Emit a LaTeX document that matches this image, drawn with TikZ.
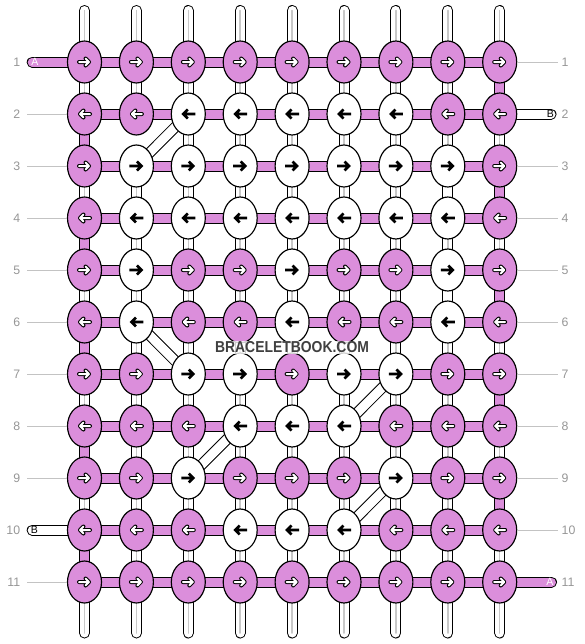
\documentclass[tikz,border=0pt]{standalone}
\usepackage{fontspec}
\setmainfont{Liberation Sans}
\usetikzlibrary{shapes.geometric}
\definecolor{knotpink}{RGB}{219,142,219}
\definecolor{labelgray}{RGB}{150,150,150}
\definecolor{guidegray}{RGB}{195,195,195}
\definecolor{stripegray}{RGB}{200,200,200}
\definecolor{markgray}{RGB}{64,64,64}
\pgfdeclarelayer{back}
\pgfsetlayers{back,main}

\begin{document}
\begin{tikzpicture}[
    x=0.3mm, y=-0.3mm,
    knot/.style={
        ellipse,
        draw=black,
        line width=0.35mm,
        inner sep=0pt,
        minimum width=10.2mm,
        minimum height=12.6mm
    },
    knotP/.style={knot, fill=knotpink},
    knotW/.style={knot, fill=white},
    strw/.style={draw=stripegray, line width=0.45mm, line cap=round,
        preaction={draw=black, line width=3.3mm, line cap=round},
        preaction={draw=white, line width=2.7mm, line cap=round}},
    strb/.style={draw=white, line width=2.7mm, line cap=round,
        preaction={draw=black, line width=3.3mm, line cap=round}},
    strp/.style={draw=knotpink, line width=2.7mm, line cap=round,
        preaction={draw=black, line width=3.3mm, line cap=round}},
    rowlab/.style={text=labelgray, font=\fontsize{10.5}{12}\selectfont, inner ysep=0pt},
    guide/.style={draw=guidegray, line width=0.3mm},
    endlab/.style={font=\fontsize{9}{9}\selectfont, inner sep=0pt},
    pics/darkarr/.style={code={
        \draw[line width=0.8mm, line join=miter] (-7,0) -- (5,0) (0.5,-4.5) -- (5,0) -- (0.5,4.5);
    }},
    pics/lightarr/.style={code={
        \draw[line width=1.2mm, line cap=round, line join=round] (-5.5,0) -- (4.5,0) (1,-3.5) -- (4.5,0) -- (1,3.5);
        \draw[white, line width=0.6mm, line cap=round, line join=round] (-5.5,0) -- (4.5,0) (1,-3.5) -- (4.5,0) -- (1,3.5);
    }}
]
\useasboundingbox (0,0) rectangle (584,644);

% knots row by row (1 = pink, 0 = white), odd rows forward, even rows backward
\foreach \pat [count=\r] in {
    {1,1,1,1,1,1,1,1,1},
    {1,1,0,0,0,0,0,1,1},
    {1,0,0,0,0,0,0,0,1},
    {1,0,0,0,0,0,0,0,1},
    {1,0,1,1,0,1,1,0,1},
    {1,0,1,1,0,1,1,0,1},
    {1,1,0,0,1,0,0,1,1},
    {1,1,1,0,0,0,1,1,1},
    {1,1,0,1,1,1,0,1,1},
    {1,1,1,0,0,0,1,1,1},
    {1,1,1,1,1,1,1,1,1}}{
  \pgfmathtruncatemacro\ang{180*(1-mod(\r,2))}
  \foreach \v [count=\c] in \pat {
    \ifnum\v=1
      \node[knotP] (k-\r-\c) at ({84.5+51.9*(\c-1)},{62+52*(\r-1)}) {};
      \pic[rotate=\ang] at (k-\r-\c) {lightarr};
    \else
      \node[knotW] (k-\r-\c) at ({84.5+51.9*(\c-1)},{62+52*(\r-1)}) {};
      \pic[rotate=\ang] at (k-\r-\c) {darkarr};
    \fi
  }
}

% row numbers
\foreach \r in {1,...,11}{
  \node[rowlab, anchor=east, inner xsep=2mm] (ll-\r) at (27,{62+52*(\r-1)}) {\r};
  \node[rowlab, anchor=west, inner xsep=1.2mm] (rl-\r) at (557.5,{62+52*(\r-1)}) {\r};
}
\foreach \r in {2,3,4,5,6,7,8,9,11}
  \draw[guide] (ll-\r) -- (k-\r-1);
\foreach \r in {1,3,4,5,6,7,8,9,10}
  \draw[guide] (k-\r-9) -- (rl-\r);

\begin{pgfonlayer}{back}
% strands that move over one column
\draw[strb] (k-2-3.center) -- (k-3-2.center);
\draw[strb] (k-6-2.center) -- (k-7-3.center);
\draw[strb] (k-7-7.center) -- (k-8-6.center);
\draw[strb] (k-8-4.center) -- (k-9-3.center);
\draw[strb] (k-9-7.center) -- (k-10-6.center);

% vertical strands (0 none, 1 base, 2 plain white, 3 pink)
\foreach \pat [count=\r] in {
    {1,1,1,1,1,1,1,1,3},
    {3,0,1,1,1,1,1,1,1},
    {1,1,1,1,1,1,1,2,3},
    {3,1,1,1,1,1,1,1,1},
    {1,1,1,1,1,1,1,2,3},
    {3,1,1,1,1,1,1,1,1},
    {1,1,1,1,1,1,1,1,3},
    {3,1,1,1,1,1,1,1,1},
    {1,1,1,1,1,1,1,1,3},
    {3,1,1,1,1,1,1,1,1}}{
  \pgfmathtruncatemacro\rn{\r+1}
  \foreach \v [count=\c] in \pat {
    \ifcase\v
    \or \draw[strw] (k-\r-\c.center) -- (k-\rn-\c.center);
    \or \draw[strb] (k-\r-\c.center) -- (k-\rn-\c.center);
    \or \draw[strp] (k-\r-\c.center) -- (k-\rn-\c.center);
    \fi
  }
}

% horizontal strands
\foreach \r in {1,...,11}
  \foreach \c [count=\cn from 2] in {1,...,8}
    \draw[strp] (k-\r-\c.center) -- (k-\r-\cn.center);

% loose ends top and bottom
\foreach \c in {1,...,9}{
  \coordinate (top-\c) at (k-1-\c |- 0,10.5);
  \coordinate (bot-\c) at (k-11-\c |- 0,633);
  \draw[strw] (top-\c) -- (k-1-\c.center);
  \draw[strw] (bot-\c) -- (k-11-\c.center);
}

% A and B ends
\coordinate (endA-l) at (32.2,62);
\coordinate (endB-r) at (551,114);
\coordinate (endB-l) at (32.2,530);
\coordinate (endA-r) at (551.5,582);
\draw[strp] (endA-l) -- (k-1-1.center);
\draw[strb] (k-2-9.center) -- (endB-r);
\draw[strb] (endB-l) -- (k-10-1.center);
\draw[strp] (k-11-9.center) -- (endA-r);
\end{pgfonlayer}

\node[endlab, text=white] (labA-l) at (35,62) {A};
\node[endlab] (labB-r) at (550.3,114) {B};
\node[endlab] (labB-l) at (34.5,530) {B};
\node[endlab, text=white] (labA-r) at (550,582) {A};

% watermark
\node[fill=white, fill opacity=0.8, text opacity=1, text=markgray, inner sep=0.5pt,
    font=\bfseries\fontsize{13.5}{14}\selectfont] (mark) at (292,347.5)
    {\scalebox{0.88}[1]{BRACELETBOOK.COM}};

\end{tikzpicture}
\end{document}
